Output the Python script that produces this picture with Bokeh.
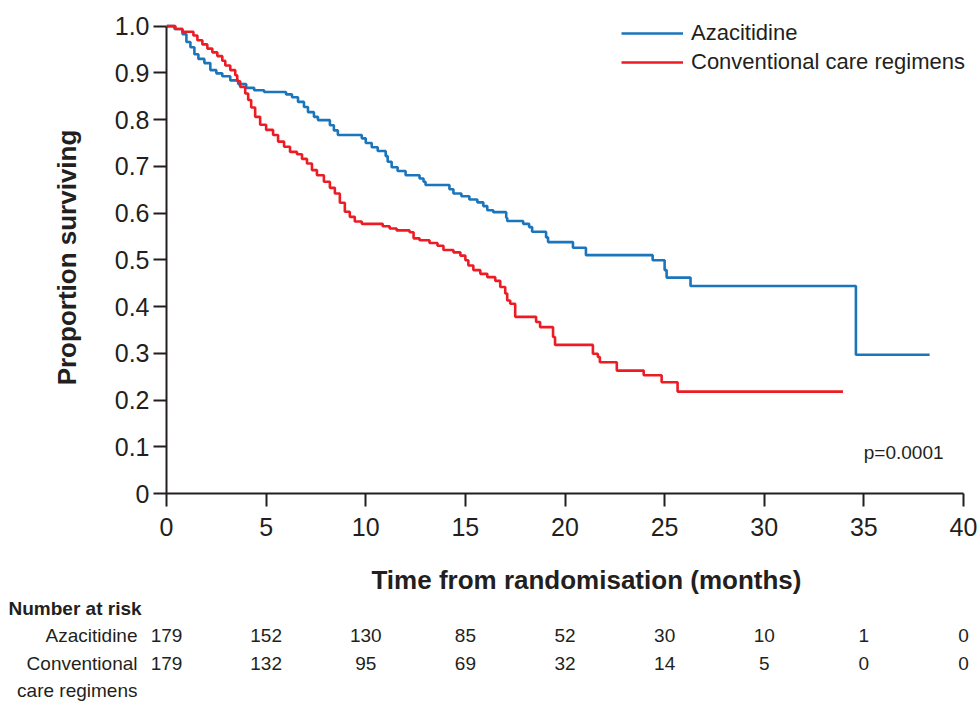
from bokeh.plotting import figure
from bokeh.models import Range1d, FixedTicker, Legend, LegendItem, Label
from bokeh.layouts import column
from bokeh.embed import file_html
from bokeh.resources import INLINE
from bokeh.core.properties import value

# ---- data (Kaplan-Meier steps) ----
aza_t = [0, 0.4, 0.8, 1.0, 1.2, 1.4, 1.6, 1.9, 2.2, 2.5, 2.8, 3.2, 3.6, 4.0, 4.4, 4.9,
         6.0, 6.3, 6.6, 6.9, 7.1, 7.4, 7.6, 8.2, 8.4, 8.6, 9.8, 10.0, 10.3, 10.6, 11.0,
         11.1, 11.3, 11.6, 12.0, 12.7, 12.9, 13.0, 14.2, 14.4, 14.8, 15.2, 15.6, 15.9,
         16.1, 16.4, 17.05, 17.1, 17.9, 18.2, 18.35, 19.05, 19.15, 20.4, 21.05, 24.4,
         25.0, 25.1, 26.3, 34.6, 38.3]
aza_s = [1.0, 0.994, 0.983, 0.966, 0.955, 0.940, 0.930, 0.921, 0.906, 0.899, 0.893, 0.884,
         0.876, 0.868, 0.863, 0.859, 0.854, 0.848, 0.838, 0.827, 0.816, 0.806, 0.799, 0.788,
         0.777, 0.767, 0.760, 0.750, 0.741, 0.733, 0.722, 0.710, 0.698, 0.690, 0.681, 0.674,
         0.667, 0.660, 0.651, 0.642, 0.636, 0.629, 0.623, 0.615, 0.606, 0.602, 0.590, 0.583,
         0.577, 0.570, 0.560, 0.548, 0.538, 0.526, 0.510, 0.499, 0.478, 0.462, 0.444, 0.297,
         0.297]

ccr_t = [0, 0.45, 0.8, 1.35, 1.55, 1.8, 2.05, 2.3, 2.55, 2.8, 2.95, 3.2, 3.45, 3.55, 3.7,
         3.95, 4.1, 4.25, 4.45, 4.7, 5.0, 5.35, 5.6, 5.9, 6.2, 6.55, 6.8, 7.05, 7.3, 7.55,
         7.9, 8.2, 8.45, 8.7, 8.95, 9.2, 9.45, 9.8, 10.85, 11.2, 11.55, 12.2, 12.4, 12.7,
         13.2, 13.6, 13.9, 14.4, 14.75, 15.0, 15.15, 15.4, 15.75, 16.1, 16.5, 16.75, 17.0,
         17.1, 17.25, 17.5, 18.55, 18.75, 19.4, 19.5, 21.4, 21.65, 21.75, 22.6, 23.95,
         24.85, 25.65, 33.95]
ccr_s = [1.0, 0.994, 0.988, 0.980, 0.970, 0.961, 0.952, 0.944, 0.936, 0.926, 0.916, 0.906,
         0.895, 0.882, 0.870, 0.856, 0.842, 0.826, 0.806, 0.789, 0.778, 0.767, 0.753, 0.742,
         0.731, 0.726, 0.716, 0.706, 0.692, 0.681, 0.667, 0.654, 0.642, 0.622, 0.603, 0.592,
         0.582, 0.577, 0.572, 0.567, 0.563, 0.559, 0.546, 0.542, 0.536, 0.530, 0.521, 0.516,
         0.509, 0.499, 0.488, 0.478, 0.470, 0.463, 0.455, 0.442, 0.428, 0.413, 0.406, 0.378,
         0.367, 0.356, 0.335, 0.318, 0.299, 0.292, 0.281, 0.263, 0.253, 0.238, 0.218, 0.218]

x_ticks = [0, 5, 10, 15, 20, 25, 30, 35, 40]
y_ticks = [0, 0.1, 0.2, 0.3, 0.4, 0.5, 0.6, 0.7, 0.8, 0.9, 1.0]
y_labels = {0: "0", 1: "1.0"}

risk_aza = [179, 152, 130, 85, 52, 30, 10, 1, 0]
risk_ccr = [179, 132, 95, 69, 32, 14, 5, 0, 0]
series_names = ["Azacitidine", "Conventional care regimens"]
risk_title = "Number at risk"
risk_row_labels = ["Azacitidine", "Conventional", "care regimens"]
x_title = "Time from randomisation (months)"
y_title = "Proportion surviving"
p_text = "p=0.0001"

# ---- styling / layout constants ----
FONT = "Liberation Sans"
INK = "#231f20"
BLUE = "#1b75bb"
RED = "#ed1c24"

W = 977
H1, H2 = 598, 104
LEFT, TOP, BOTTOM = 166, 21, 105
AXIS_PX = 797                      # pixel length of the 0..40 month axis
PX = AXIS_PX / 40.0
X_END = (W - LEFT) / PX            # frame reaches the right edge of the canvas

p = figure(width=W, height=H1, x_range=Range1d(0, X_END), y_range=Range1d(0, 1.01),
           output_backend="svg", toolbar_location=None,
           min_border_left=LEFT, min_border_right=0, min_border_top=TOP,
           min_border_bottom=BOTTOM)
p.frame_align = False
p.grid.visible = False
p.outline_line_color = None

r1 = p.step(aza_t, aza_s, mode="after", line_color=BLUE, line_width=2.6)
r2 = p.step(ccr_t, ccr_s, mode="after", line_color=RED, line_width=2.6)

for ax in (p.xaxis[0], p.yaxis[0]):
    ax.axis_line_color = INK
    ax.axis_line_width = 2
    ax.major_tick_line_color = INK
    ax.major_tick_line_width = 2
    ax.major_tick_out = 13
    ax.major_tick_in = 0
    ax.minor_tick_line_color = None
    ax.major_label_text_font = FONT
    ax.major_label_text_font_size = "25px"
    ax.major_label_text_color = INK
    ax.axis_label_text_font = FONT
    ax.axis_label_text_font_size = "26px"
    ax.axis_label_text_font_style = "bold"
    ax.axis_label_text_color = INK

p.xaxis.ticker = FixedTicker(ticks=x_ticks)
p.yaxis.ticker = FixedTicker(ticks=y_ticks)
p.yaxis.major_label_overrides = y_labels
p.yaxis.bounds = (0, 1)
p.xaxis.bounds = (0, 40)
p.xaxis.major_label_standoff = 11
p.yaxis.major_label_standoff = 4
p.xaxis.axis_label = "\u00a0" * 4 + x_title
p.yaxis.axis_label = y_title
p.xaxis.axis_label_standoff = 26
p.yaxis.axis_label_standoff = 30

legend = Legend(items=[LegendItem(label=series_names[0], renderers=[r1]),
                       LegendItem(label=series_names[1], renderers=[r2])],
                location=(455, 418), padding=0, margin=0, spacing=3,
                glyph_width=62, glyph_height=26, label_standoff=8,
                label_text_font=FONT, label_text_font_size="22px",
                label_text_color=INK, border_line_color=None,
                background_fill_alpha=0)
p.add_layout(legend)

p.add_layout(Label(x=39.0, y=0.088, text=p_text, text_align="right",
                   text_baseline="middle", text_font=FONT,
                   text_font_size="19px", text_color=INK))

# ---- number at risk table, on the same months-to-pixels scale ----
TS = "19px"
t = figure(width=W, height=H2, x_range=Range1d(-LEFT / PX, X_END),
           y_range=Range1d(3.439, -0.366),
           output_backend="svg", toolbar_location=None,
           min_border_left=0, min_border_right=0, min_border_top=0,
           min_border_bottom=0, x_axis_type=None, y_axis_type=None)
t.frame_align = False
t.grid.visible = False
t.outline_line_color = None

t.text(x=[-158 / PX], y=[0], text=[risk_title], text_align="left",
       text_baseline="middle", text_font=value(FONT), text_font_size=TS,
       text_font_style="bold", text_color=INK)
t.text(x=[-29 / PX] * 3, y=[1, 2, 3], text=risk_row_labels, text_align="right",
       text_baseline="middle", text_font=value(FONT), text_font_size=TS,
       text_color=INK)
t.text(x=x_ticks, y=[1] * len(x_ticks), text=[str(v) for v in risk_aza],
       text_align="center", text_baseline="middle", text_font=value(FONT),
       text_font_size=TS, text_color=INK)
t.text(x=x_ticks, y=[2] * len(x_ticks), text=[str(v) for v in risk_ccr],
       text_align="center", text_baseline="middle", text_font=value(FONT),
       text_font_size=TS, text_color=INK)

layout = column(p, t, spacing=0)
open("out.html", "w").write(file_html(layout, INLINE))
